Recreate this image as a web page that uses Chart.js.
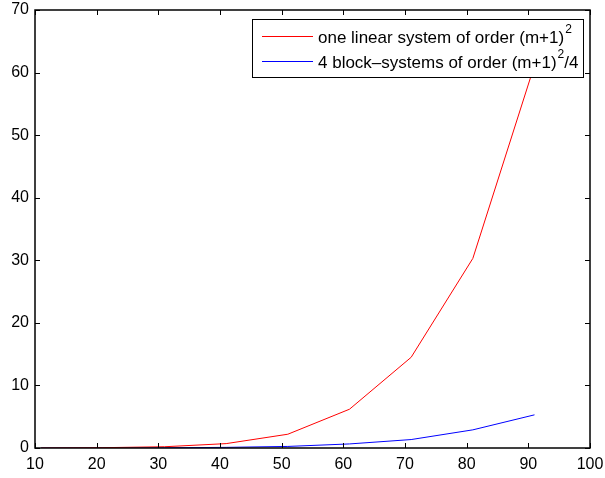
<!DOCTYPE html>
<html>
<head>
<meta charset="utf-8">
<script src="https://cdn.jsdelivr.net/npm/chart.js@4"></script>
<style>
  html, body { margin: 0; padding: 0; background: #fff; }
  #wrap { width: 605px; height: 478px; }
</style>
</head>
<body>
<div id="wrap"><canvas id="c"></canvas></div>
<script>
// data
const xs = [11, 21, 31, 41, 51, 61, 71, 81, 91]
const oneSystem = [0.0, 0.05, 0.2, 0.7, 2.2, 6.2, 14.5, 30.3, 61.2]
const blockSystems = [0.0, 0.01, 0.03, 0.1, 0.25, 0.65, 1.35, 2.9, 5.3]
const xTicks = [10, 20, 30, 40, 50, 60, 70, 80, 90, 100]
const yTicks = [0, 10, 20, 30, 40, 50, 60, 70]

const FONT = 'Liberation Sans, Arial, sans-serif'

// legend entries: [main text, superscript, tail]
const legendItems = [
    { color: '#ff0000', parts: ['one linear system of order (m+1)', '2', ''] },
    { color: '#0000ff', parts: ['4 block\u2013systems of order (m+1)', '2', '/4'] }
]

const toPoints = (ys) => xs.map((x, i) => ({ x: x, y: ys[i] }))

// matlab style box with inward ticks
const boxPlugin = {
    id: 'box',
    afterDraw(chart) {
        const ctx = chart.ctx
        const a = chart.chartArea
        const sx = chart.scales.x, sy = chart.scales.y
        ctx.save()
        ctx.strokeStyle = '#000'
        ctx.lineWidth = 1
        ctx.beginPath()
        for (const t of xTicks) {
            const px = Math.round(sx.getPixelForValue(t)) + 0.5
            ctx.moveTo(px, a.bottom); ctx.lineTo(px, a.bottom - 5)
            ctx.moveTo(px, a.top); ctx.lineTo(px, a.top + 5)
        }
        for (const t of yTicks) {
            const py = Math.round(sy.getPixelForValue(t)) + 0.5
            ctx.moveTo(a.left, py); ctx.lineTo(a.left + 5, py)
            ctx.moveTo(a.right, py); ctx.lineTo(a.right - 5, py)
        }
        ctx.stroke()
        ctx.lineWidth = 1.5
        ctx.strokeRect(a.left, a.top, a.right - a.left, a.bottom - a.top)

        // legend box
        const lx = 252, ly = 19, lw = 331, lh = 58
        ctx.fillStyle = '#fff'
        ctx.fillRect(lx, ly, lw, lh)
        ctx.lineWidth = 1
        ctx.strokeRect(lx + 0.5, ly + 0.5, lw, lh)
        legendItems.forEach((it, i) => {
            const y = ly + 17 + i * 25
            ctx.strokeStyle = it.color
            ctx.beginPath()
            ctx.moveTo(262, y + 0.5); ctx.lineTo(313, y + 0.5)
            ctx.stroke()
            ctx.fillStyle = '#000'
            ctx.textBaseline = 'middle'
            ctx.textAlign = 'left'
            ctx.font = '17px ' + FONT
            let x = 318
            ctx.fillText(it.parts[0], x, y + 2)
            x += ctx.measureText(it.parts[0]).width
            ctx.font = '12px ' + FONT
            ctx.fillText(it.parts[1], x + 1, y - 6)
            x += ctx.measureText(it.parts[1]).width + 1
            ctx.font = '17px ' + FONT
            ctx.fillText(it.parts[2], x, y + 2)
        })
        ctx.restore()
    }
}

new Chart(document.getElementById('c'), {
    type: 'line',
    data: {
        datasets: [{
            label: legendItems[0].parts.join(''),
            data: toPoints(oneSystem),
            borderColor: '#ff0000',
            borderWidth: 1,
            pointRadius: 0,
            tension: 0
        }, {
            label: legendItems[1].parts.join(''),
            data: toPoints(blockSystems),
            borderColor: '#0000ff',
            borderWidth: 1,
            pointRadius: 0,
            tension: 0
        }]
    },
    options: {
        responsive: true,
        maintainAspectRatio: false,
        animation: false,
        layout: { padding: { top: 10, right: 15, left: 0, bottom: 0 } },
        plugins: { legend: { display: false }, tooltip: { enabled: false } },
        scales: {
            x: {
                type: 'linear',
                min: 10, max: 100,
                afterBuildTicks: (s) => { s.ticks = xTicks.map(v => ({ value: v })) },
                afterFit: (s) => { s.height = 30; s.paddingLeft = 0; s.paddingRight = 0 },
                grid: { display: false, drawTicks: false },
                border: { display: false },
                ticks: { color: '#000', padding: 7, maxRotation: 0, font: { family: FONT, size: 16 } }
            },
            y: {
                type: 'linear',
                min: 0, max: 70,
                afterBuildTicks: (s) => { s.ticks = yTicks.map(v => ({ value: v })) },
                afterFit: (s) => { s.width = 35; s.paddingTop = 0; s.paddingBottom = 0 },
                grid: { display: false, drawTicks: false },
                border: { display: false },
                ticks: { color: '#000', padding: 6, font: { family: FONT, size: 16 } }
            }
        }
    },
    plugins: [boxPlugin]
})
</script>
</body>
</html>
